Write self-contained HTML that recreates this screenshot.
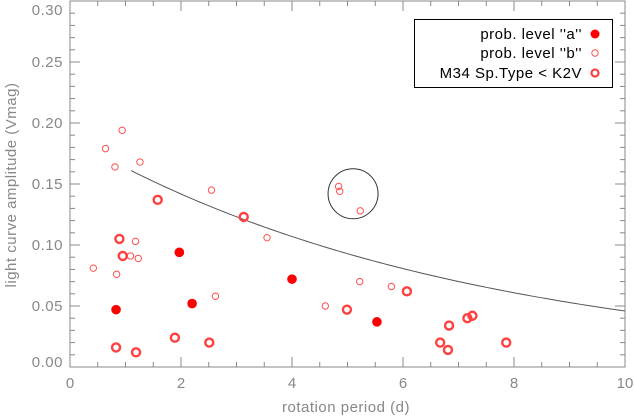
<!DOCTYPE html>
<html><head><meta charset="utf-8"><style>
html,body{margin:0;padding:0;background:#fff;}
svg{display:block;font-family:"Liberation Sans",sans-serif;}
</style></head><body>
<svg id="chart" width="634" height="417" viewBox="0 0 634 417">
<g id="axes"></g>
<g id="marks"></g>
<g>
 <rect x="414.5" y="19.5" width="198" height="68" fill="#fff" stroke="#000" stroke-width="1"/>
 <text x="582" y="39" text-anchor="end" font-size="15" fill="#000" letter-spacing="0.5">prob.  level  ''a''</text>
 <circle cx="595" cy="34" r="4.5" fill="#ff0000"/>
 <text x="582" y="58" text-anchor="end" font-size="15" fill="#000" letter-spacing="0.5">prob.  level  ''b''</text>
 <circle cx="595" cy="53" r="3.2" fill="none" stroke="#ff5050" stroke-width="1"/>
 <text x="582" y="78" text-anchor="end" font-size="15" fill="#000" letter-spacing="0.5">M34  Sp.Type  &lt;  K2V</text>
 <circle cx="595" cy="73" r="3.5" fill="none" stroke="#ff4040" stroke-width="2.2"/>
</g>
<text x="346" y="412" text-anchor="middle" font-size="15" fill="#888" letter-spacing="0.5">rotation period (d)</text>
<text transform="translate(16,185) rotate(-90)" text-anchor="middle" font-size="15" fill="#888" letter-spacing="0.5">light curve amplitude (Vmag)</text>
</svg>
<script>
const xTicks = [0,2,4,6,8,10];
const yTicks = [0.00,0.05,0.10,0.15,0.20,0.25,0.30];
const yTickLabels = ["0.00","0.05","0.10","0.15","0.20","0.25","0.30"];
const aPeriods = [0.83,2.20,1.97,4.00,5.53];
const aAmps = [0.047,0.052,0.094,0.072,0.037];
const bPeriods = [0.94,0.64,1.26,0.81,2.55,3.55,1.18,1.09,1.23,0.42,0.84,2.62,4.84,4.86,5.23,5.22,5.79,4.60];
const bAmps = [0.194,0.179,0.168,0.164,0.145,0.106,0.103,0.091,0.089,0.081,0.076,0.058,0.148,0.144,0.128,0.070,0.066,0.050];
const mPeriods = [1.58,3.13,0.89,0.95,0.83,1.19,1.89,2.51,6.07,4.99,6.83,6.67,6.81,7.16,7.25,7.86];
const mAmps = [0.137,0.123,0.105,0.091,0.016,0.012,0.024,0.020,0.062,0.047,0.034,0.020,0.014,0.040,0.042,0.020];
const fitA = 0.188, fitK = 0.141, fitStart = 1.1, fitEnd = 10;
const circleCenter = [5.10,0.142];

const X0=70, X1=625, Y0=367, Y1=1;
const sx = v => X0 + v/10*(X1-X0);
const sy = v => Y0 - v/0.30*(Y0-Y1);
const NS='http://www.w3.org/2000/svg';
const axes=document.getElementById('axes'), marks=document.getElementById('marks');
function mk(tag, attrs, parent){const e=document.createElementNS(NS,tag);for(const k in attrs)e.setAttribute(k,attrs[k]);parent.appendChild(e);return e;}

const frame=mk('rect',{x:X0,y:Y1,width:X1-X0,height:Y0-Y1,fill:'none',stroke:'#888','stroke-width':1},axes);


for(let v=0; v<=10.001; v+=0.5){
  const major = Math.abs(v/2-Math.round(v/2))<1e-6;
  const L = major?10:5;
  const t1=mk('line',{x1:sx(v),x2:sx(v),y1:Y0,y2:Y0-L,stroke:'#888'},axes);
  
  
  const t2=mk('line',{x1:sx(v),x2:sx(v),y1:Y1,y2:Y1+L,stroke:'#888'},axes);
  
  
}
xTicks.forEach(v=>{
  const t=mk('text',{x:sx(v),y:Y0+21,'text-anchor':'middle','font-size':15,fill:'#888'},axes);
  t.textContent=String(v);
  
  
});
for(let i=0;i<=30;i++){
  const v=i*0.01, major=i%5===0, L=major?10:5;
  const t1=mk('line',{x1:X0,x2:X0+L,y1:sy(v),y2:sy(v),stroke:'#888'},axes);
  
  
  const t2=mk('line',{x1:X1,x2:X1-L,y1:sy(v),y2:sy(v),stroke:'#888'},axes);
  
  
}
yTicks.forEach((v,i)=>{
  let yy = sy(v)+5;
  if(i===0) yy = sy(v);
  if(i===yTicks.length-1) yy = 15;
  const t=mk('text',{x:X0-7,y:yy,'text-anchor':'end','font-size':15,fill:'#888','letter-spacing':0.5},axes);
  t.textContent=yTickLabels[i];
  
  
});
let d='';
for(let i=0;i<=100;i++){const x=fitStart+(fitEnd-fitStart)*i/100;const y=fitA*Math.exp(-fitK*x);d+=(i?'L':'M')+sx(x).toFixed(2)+','+sy(y).toFixed(2);}
const fc=mk('path',{d:d,fill:'none',stroke:'#555','stroke-width':1},marks);


const cc=mk('circle',{cx:sx(circleCenter[0]),cy:sy(circleCenter[1]),r:25,fill:'none',stroke:'#333','stroke-width':1},marks);


bPeriods.forEach((p,i)=>{
  const c=mk('circle',{cx:sx(p),cy:sy(bAmps[i]),r:3.2,fill:'none',stroke:'#ff5050','stroke-width':1},marks);
  
  
});
mPeriods.forEach((p,i)=>{
  const c=mk('circle',{cx:sx(p),cy:sy(mAmps[i]),r:4,fill:'none',stroke:'#ff4040','stroke-width':2.4},marks);
  
  
});
aPeriods.forEach((p,i)=>{
  const c=mk('circle',{cx:sx(p),cy:sy(aAmps[i]),r:4.8,fill:'#ff0000'},marks);
  
  
});
</script>
</body></html>
